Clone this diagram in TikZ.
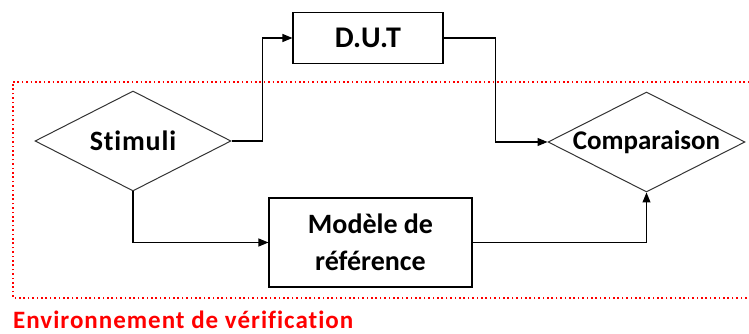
\documentclass[tikz,border=0pt]{standalone}
\usepackage{fontspec}
\setmainfont{Carlito}[Ligatures=NoCommon]
\usetikzlibrary{arrows.meta,shapes.geometric}
\begin{document}
\begin{tikzpicture}[x=1pt,y=1pt,
  box/.style={draw=black,line width=1.1pt,rectangle,inner sep=0pt,align=center,font=\fontsize{28}{37}\selectfont\bfseries},
  dia/.style={draw=black!80,line width=1pt,diamond,inner sep=0pt,font=\fontsize{28}{34}\selectfont\bfseries},
  arr/.style={draw=black,line width=1.1pt,-{Triangle[length=10pt,width=8pt]}},
  envbox/.style={draw=red,line width=1.6pt,dash pattern=on 1.6pt off 2.8pt}
]
\useasboundingbox (0,0) rectangle (749,334);
\begin{scope}
\clip (0,0) rectangle (749,334);
\draw[envbox] (13,252) -- (780,252) -- (780,36) -- (13,36) -- cycle;
\end{scope}
\node[box,minimum width=150pt,minimum height=51pt,font=\fontsize{30}{37}\selectfont\bfseries] (dut) at (368,296) {D.U.T};
\node[box,minimum width=203pt,minimum height=89pt] (mod) at (370.5,91.5) {Modèle de\\référence};
\node[dia,minimum width=196pt,minimum height=100pt] (stim) at (133,193) {\makebox[0pt]{\addfontfeatures{LetterSpace=3}Stimuli}};
\node[dia,minimum width=197pt,minimum height=100pt,font=\fontsize{27}{34}\selectfont\bfseries] (comp) at (646.5,192) {\makebox[0pt]{Comparaison}};
\node[anchor=base west,text=red,inner sep=0pt,font=\fontsize{25}{30}\selectfont\bfseries] (env) at (13,5) {\addfontfeatures{LetterSpace=4}Environnement de vérification};
\draw[arr] (stim.east) -- ++(31,0) |- (dut.west);
\draw[arr] (dut.east) -- ++(52,0) |- (comp.west);
\draw[arr] (stim.south) |- (mod.west);
\draw[arr] (mod.east) -| (comp.south);
\end{tikzpicture}
\end{document}
